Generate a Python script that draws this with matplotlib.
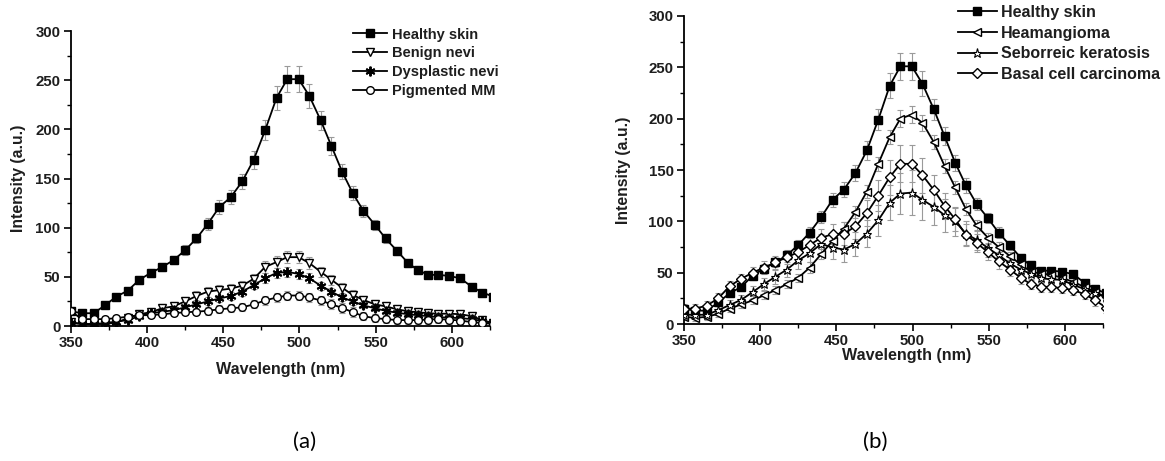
import matplotlib
matplotlib.use("Agg")
import matplotlib.pyplot as plt
from matplotlib.ticker import MultipleLocator

plt.rcParams['font.family'] = ['Liberation Sans', 'DejaVu Sans']

# ---------------- data ----------------
wavelength = [350, 357.5, 365, 372.5, 380, 387.5, 395, 402.5, 410, 417.5,
              425, 432.5, 440, 447.5, 455, 462.5, 470, 477.5, 485, 492,
              499.5, 506.5, 514, 521, 528, 535, 542, 549.5, 556.5, 564,
              571, 577.5, 584.5, 591, 598, 605.5, 613, 620, 627]

healthy = [15, 13, 13, 21, 30, 36, 47, 54, 60, 67,
           77, 89, 104, 121, 131, 147, 169, 199, 232, 251,
           251, 234, 209, 183, 157, 135, 117, 103, 89, 76.5,
           64.5, 57, 52, 52, 51, 48.5, 40, 34, 30]
healthy_err = [3, 3, 3, 3, 3, 3, 4, 4, 4, 4,
               5, 5, 6, 7, 7, 8, 9, 10, 12, 13,
               13, 12, 10, 9, 8, 7, 6, 5, 5, 4,
               4, 4, 3, 3, 3, 3, 3, 3, 3]

benign = [4, 2, 2, 2, 3.5, 8, 12, 14, 18, 20,
          25, 30.5, 35, 36.5, 38, 41, 48, 60, 65, 70,
          70, 64, 55, 47, 39, 31.5, 26.5, 22, 20, 17,
          15, 14, 13, 12.5, 12.5, 12, 10, 6, 3]
benign_err = [3, 3, 3, 3, 3, 3, 4, 4, 4, 4,
              4, 5, 5, 5, 5, 5, 5, 6, 6, 6,
              6, 6, 5, 5, 5, 5, 4, 4, 4, 4,
              4, 4, 4, 4, 4, 4, 4, 4, 4]

dysplastic = [3, 2, 2, 3, 4.5, 6, 10, 13, 14.5, 16,
              19, 22, 25, 28, 30.5, 35, 41.5, 48.5, 54, 55,
              53, 48.5, 41, 35, 29, 25, 21, 18, 15.5, 13.5,
              12, 11, 10, 9, 8.5, 8, 7, 5, 3]
dysplastic_err = [2, 2, 2, 2, 3, 3, 3, 3, 3, 3,
                  3, 4, 4, 4, 4, 4, 4, 5, 5, 5,
                  5, 5, 4, 4, 4, 4, 3, 3, 3, 3,
                  3, 3, 3, 3, 3, 3, 3, 3, 3]

pigmented = [15, 7, 7, 7, 8, 9.5, 11, 11, 12, 13,
             14, 14.5, 15.5, 17, 18, 19, 22, 26, 29, 31,
             31, 29, 26, 22, 18.5, 14, 10, 8, 7, 6,
             6, 6, 6.5, 7, 6.5, 5.5, 4, 3, 2]
pigmented_err = [3, 3, 3, 3, 3, 3, 3, 3, 3, 3,
                 3, 3, 4, 4, 4, 4, 4, 5, 5, 5,
                 5, 5, 5, 5, 5, 5, 4, 4, 4, 4,
                 4, 4, 4, 4, 4, 4, 4, 4, 4]

heamangioma = [7, 6, 7, 10, 15, 19, 23, 28, 33, 39,
               45, 55, 68, 81, 93, 109, 129, 156, 182, 200,
               204, 196, 177, 154, 133, 112, 96, 84, 75, 66,
               58, 51, 49, 48, 45, 41, 36, 31, 26]
heamangioma_err = [3, 3, 3, 3, 3, 3, 4, 4, 4, 4,
                   4, 5, 5, 5, 6, 6, 6, 7, 7, 8,
                   8, 8, 7, 7, 6, 6, 5, 5, 5, 4,
                   4, 4, 4, 4, 4, 4, 4, 4, 4]

seborreic = [9, 9, 9, 13.5, 18.5, 23.5, 31, 39, 46, 53,
             62, 69, 78, 74.5, 72.5, 78, 88, 101, 118, 127,
             128, 121, 114, 106, 100, 88, 82, 74, 67, 59,
             53, 49, 44.5, 43.5, 43, 38, 34, 30, 26]
seborreic_err = [4, 4, 4, 4, 5, 5, 6, 6, 7, 7,
                 8, 9, 10, 11, 12, 12, 13, 15, 17, 20,
                 22, 20, 18, 16, 14, 12, 10, 9, 8, 7,
                 6, 6, 5, 5, 5, 5, 5, 5, 5]

bcc = [15, 15, 18, 25, 37, 44, 50, 55, 60, 65,
       70, 77, 84, 87.5, 88, 95, 108, 125, 143, 156,
       156, 145, 130.5, 115, 102, 87, 79, 70, 61, 53,
       45, 39, 36.5, 36, 35, 33, 29, 23, 16]
bcc_err = [4, 4, 4, 5, 5, 5, 6, 6, 6, 7,
           7, 8, 9, 10, 11, 12, 13, 15, 17, 18,
           18, 17, 15, 13, 11, 10, 9, 8, 7, 6,
           6, 5, 5, 5, 5, 5, 5, 5, 5]

left_labels = ["Healthy skin", "Benign nevi", "Dysplastic nevi", "Pigmented MM"]
right_labels = ["Healthy skin", "Heamangioma", "Seborreic keratosis", "Basal cell carcinoma"]
x_ticks = [350, 400, 450, 500, 550, 600]
y_ticks = [0, 50, 100, 150, 200, 250, 300]

# ---------------- drawing ----------------
W, H = 1165, 461
fig = plt.figure(figsize=(W / 100, H / 100), dpi=100)
ax1 = fig.add_axes([70.7 / W, 1 - 326 / H, 419.3 / W, 295 / H])
ax2 = fig.add_axes([684 / W, 1 - 324 / H, 419 / W, 308 / H])

ERR_COLOR = '#9a9a9a'
TXT = '#1e1e1e'
asterisk = (6, 2, 0)


def draw(ax, y, err, marker, label, face, ms=5.5, mew=1.0):
    ax.errorbar(wavelength, y, yerr=err, fmt='none', ecolor=ERR_COLOR,
                elinewidth=0.8, capsize=2.2, capthick=0.8, zorder=1)
    ax.plot(wavelength, y, color='black', lw=1.3, marker=marker, ms=ms,
            mfc=face, mec='black', mew=mew, label=label, zorder=3)


draw(ax1, healthy, healthy_err, 's', left_labels[0], 'black')
draw(ax1, benign, benign_err, 'v', left_labels[1], 'white')
draw(ax1, dysplastic, dysplastic_err, asterisk, left_labels[2], 'black', ms=7, mew=1.4)
draw(ax1, pigmented, pigmented_err, 'o', left_labels[3], 'white')

draw(ax2, healthy, healthy_err, 's', right_labels[0], 'black')
draw(ax2, heamangioma, heamangioma_err, '<', right_labels[1], 'white')
draw(ax2, seborreic, seborreic_err, '*', right_labels[2], 'white', ms=6.5, mew=0.8)
draw(ax2, bcc, bcc_err, 'D', right_labels[3], 'white', ms=5)

for ax in (ax1, ax2):
    ax.set_xlim(350, 625)
    ax.set_ylim(0, 300)
    ax.set_xticks(x_ticks)
    ax.set_yticks(y_ticks)
    ax.xaxis.set_minor_locator(MultipleLocator(25))
    ax.yaxis.set_minor_locator(MultipleLocator(25))
    for s in ('top', 'right'):
        ax.spines[s].set_visible(False)
    for s in ('left', 'bottom'):
        ax.spines[s].set_linewidth(1.3)
    ax.tick_params(which='major', direction='out', length=5, width=1.2,
                   labelsize=10.8, pad=2.5, labelcolor=TXT)
    ax.tick_params(which='minor', direction='out', length=3, width=1.0)
    for lab in ax.get_xticklabels() + ax.get_yticklabels():
        lab.set_fontweight('bold')
    ax.set_ylabel('Intensity (a.u.)', fontsize=11.3, fontweight='bold', color=TXT)
    ax.set_xlabel('Wavelength (nm)', fontsize=11.6, fontweight='bold', color=TXT)

ax1.yaxis.set_label_coords(-0.107, 0.5)
ax2.yaxis.set_label_coords(-0.126, 0.5)
ax1.xaxis.set_label_coords(0.5, -0.122)
ax2.xaxis.set_label_coords(0.532, -0.078)

leg1 = ax1.legend(loc='upper left', bbox_to_anchor=(353 / W, 1 - 27.5 / H),
                  bbox_transform=fig.transFigure, frameon=False,
                  prop={'weight': 'bold', 'size': 10.5}, handlelength=2.33,
                  handletextpad=0.34, labelspacing=0.33, borderaxespad=0,
                  borderpad=0)
leg2 = ax2.legend(loc='upper left', bbox_to_anchor=(958 / W, 1 - 5 / H),
                  bbox_transform=fig.transFigure, frameon=False,
                  prop={'weight': 'bold', 'size': 11.5}, handlelength=2.44,
                  handletextpad=0.25, labelspacing=0.35, borderaxespad=0,
                  borderpad=0)
for leg in (leg1, leg2):
    for t in leg.get_texts():
        t.set_color(TXT)

fig.text(305 / W, 1 - 442 / H, '(a)', ha='center', va='center', fontsize=16,
         family=['Lato', 'DejaVu Sans'])
fig.text(875 / W, 1 - 442 / H, '(b)', ha='center', va='center', fontsize=16,
         family=['Lato', 'DejaVu Sans'])

fig.savefig('out.png', dpi=100)
